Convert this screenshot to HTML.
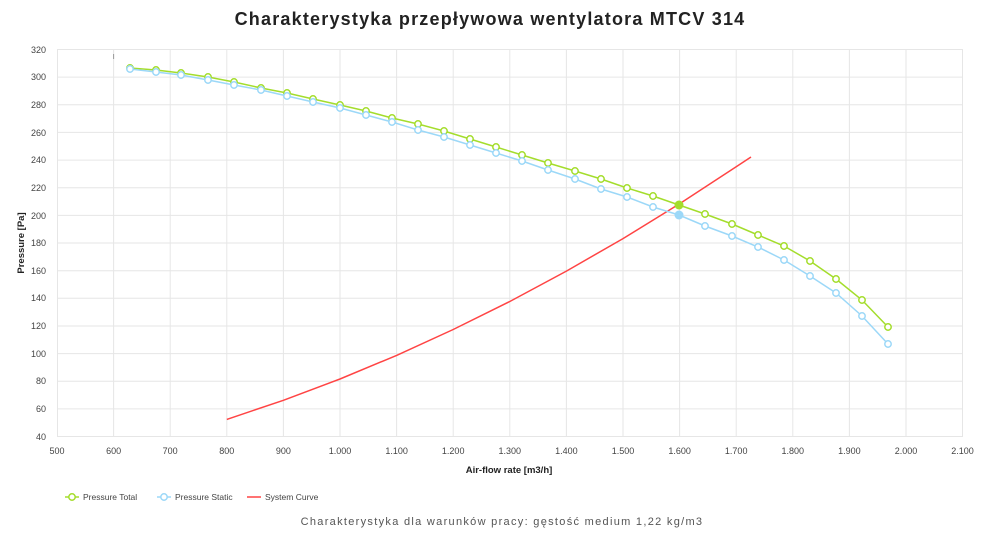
<!DOCTYPE html>
<html><head><meta charset="utf-8"><style>
html,body{margin:0;padding:0;background:#fff;width:1000px;height:541px;overflow:hidden}
svg{display:block;font-family:"Liberation Sans","DejaVu Sans",sans-serif}
</style></head><body>
<svg width="1000" height="541" viewBox="0 0 1000 541" xmlns="http://www.w3.org/2000/svg">
<text x="490" y="25" text-anchor="middle" font-size="18" font-weight="bold" letter-spacing="1.2" fill="#222">Charakterystyka przepływowa wentylatora MTCV 314</text>
<g stroke="#e6e6e6" stroke-width="1">
<line x1="57" y1="49.5" x2="963" y2="49.5"/><line x1="57" y1="77.1" x2="963" y2="77.1"/><line x1="57" y1="104.8" x2="963" y2="104.8"/><line x1="57" y1="132.4" x2="963" y2="132.4"/><line x1="57" y1="160.1" x2="963" y2="160.1"/><line x1="57" y1="187.7" x2="963" y2="187.7"/><line x1="57" y1="215.4" x2="963" y2="215.4"/><line x1="57" y1="243" x2="963" y2="243"/><line x1="57" y1="270.7" x2="963" y2="270.7"/><line x1="57" y1="298.3" x2="963" y2="298.3"/><line x1="57" y1="326" x2="963" y2="326"/><line x1="57" y1="353.6" x2="963" y2="353.6"/><line x1="57" y1="381.3" x2="963" y2="381.3"/><line x1="57" y1="408.9" x2="963" y2="408.9"/><line x1="57" y1="436.5" x2="963" y2="436.5"/>
<line x1="57.5" y1="49" x2="57.5" y2="436"/><line x1="113.6" y1="49" x2="113.6" y2="436"/><line x1="170.2" y1="49" x2="170.2" y2="436"/><line x1="226.8" y1="49" x2="226.8" y2="436"/><line x1="283.4" y1="49" x2="283.4" y2="436"/><line x1="340" y1="49" x2="340" y2="436"/><line x1="396.6" y1="49" x2="396.6" y2="436"/><line x1="453.2" y1="49" x2="453.2" y2="436"/><line x1="509.8" y1="49" x2="509.8" y2="436"/><line x1="566.4" y1="49" x2="566.4" y2="436"/><line x1="623" y1="49" x2="623" y2="436"/><line x1="679.6" y1="49" x2="679.6" y2="436"/><line x1="736.2" y1="49" x2="736.2" y2="436"/><line x1="792.8" y1="49" x2="792.8" y2="436"/><line x1="849.4" y1="49" x2="849.4" y2="436"/><line x1="906" y1="49" x2="906" y2="436"/><line x1="962.5" y1="49" x2="962.5" y2="436"/>
</g>
<line x1="113.6" y1="54" x2="113.6" y2="59" stroke="#999"/>
<g font-size="9" fill="#444" text-anchor="end">
<text x="46" y="53">320</text><text x="46" y="80">300</text><text x="46" y="108">280</text><text x="46" y="136">260</text><text x="46" y="163">240</text><text x="46" y="191">220</text><text x="46" y="219">200</text><text x="46" y="246">180</text><text x="46" y="274">160</text><text x="46" y="301">140</text><text x="46" y="329">120</text><text x="46" y="357">100</text><text x="46" y="384">80</text><text x="46" y="412">60</text><text x="46" y="440">40</text>
</g>
<g font-size="9" fill="#444" text-anchor="middle">
<text x="57" y="454">500</text><text x="113.6" y="454">600</text><text x="170.2" y="454">700</text><text x="226.8" y="454">800</text><text x="283.4" y="454">900</text><text x="340" y="454">1.000</text><text x="396.6" y="454">1.100</text><text x="453.2" y="454">1.200</text><text x="509.8" y="454">1.300</text><text x="566.4" y="454">1.400</text><text x="623" y="454">1.500</text><text x="679.6" y="454">1.600</text><text x="736.2" y="454">1.700</text><text x="792.8" y="454">1.800</text><text x="849.4" y="454">1.900</text><text x="906" y="454">2.000</text><text x="962.5" y="454">2.100</text>
</g>
<text x="509" y="473" text-anchor="middle" font-size="9.5" font-weight="bold" fill="#222">Air-flow rate [m3/h]</text>
<text transform="translate(24,243) rotate(-90)" text-anchor="middle" font-size="9.5" font-weight="bold" fill="#222">Pressure [Pa]</text>
<polyline fill="none" stroke="#f44" stroke-width="1.5" points="226.8,419.4 283.4,400.3 340,379 396.6,355.4 453.2,329.5 509.8,301.5 566.4,271.1 623,238.6 679.6,203.8 736.2,166.7 751,157"/>
<polyline fill="none" stroke="#a4dd2c" stroke-width="1.5" points="130,68 156,70 181,73 208,77 234,82 261,88 287,93 313,99 340,105 366,111 392,118 418,124 444,131 470,139 496,147 522,155 548,163 575,171 601,179 627,188 653,196 679,205 705,214 732,224 758,235 784,246 810,261 836,279 862,300 888,327"/>
<polyline fill="none" stroke="#9cd8f8" stroke-width="1.5" points="130,69 156,72 181,75 208,80 234,85 261,90 287,96 313,102 340,108 366,115 392,122 418,130 444,137 470,145 496,153 522,161 548,170 575,179 601,189 627,197 653,207 679,215 705,226 732,236 758,247 784,260 810,276 836,293 862,316 888,344"/>
<g fill="#fff" stroke="#a4dd2c" stroke-width="1.5">
<circle cx="130" cy="68" r="3.2"/><circle cx="156" cy="70" r="3.2"/><circle cx="181" cy="73" r="3.2"/><circle cx="208" cy="77" r="3.2"/><circle cx="234" cy="82" r="3.2"/><circle cx="261" cy="88" r="3.2"/><circle cx="287" cy="93" r="3.2"/><circle cx="313" cy="99" r="3.2"/><circle cx="340" cy="105" r="3.2"/><circle cx="366" cy="111" r="3.2"/><circle cx="392" cy="118" r="3.2"/><circle cx="418" cy="124" r="3.2"/><circle cx="444" cy="131" r="3.2"/><circle cx="470" cy="139" r="3.2"/><circle cx="496" cy="147" r="3.2"/><circle cx="522" cy="155" r="3.2"/><circle cx="548" cy="163" r="3.2"/><circle cx="575" cy="171" r="3.2"/><circle cx="601" cy="179" r="3.2"/><circle cx="627" cy="188" r="3.2"/><circle cx="653" cy="196" r="3.2"/><circle cx="705" cy="214" r="3.2"/><circle cx="732" cy="224" r="3.2"/><circle cx="758" cy="235" r="3.2"/><circle cx="784" cy="246" r="3.2"/><circle cx="810" cy="261" r="3.2"/><circle cx="836" cy="279" r="3.2"/><circle cx="862" cy="300" r="3.2"/><circle cx="888" cy="327" r="3.2"/>
</g>
<g fill="#fff" stroke="#9cd8f8" stroke-width="1.5">
<circle cx="130" cy="69" r="3.2"/><circle cx="156" cy="72" r="3.2"/><circle cx="181" cy="75" r="3.2"/><circle cx="208" cy="80" r="3.2"/><circle cx="234" cy="85" r="3.2"/><circle cx="261" cy="90" r="3.2"/><circle cx="287" cy="96" r="3.2"/><circle cx="313" cy="102" r="3.2"/><circle cx="340" cy="108" r="3.2"/><circle cx="366" cy="115" r="3.2"/><circle cx="392" cy="122" r="3.2"/><circle cx="418" cy="130" r="3.2"/><circle cx="444" cy="137" r="3.2"/><circle cx="470" cy="145" r="3.2"/><circle cx="496" cy="153" r="3.2"/><circle cx="522" cy="161" r="3.2"/><circle cx="548" cy="170" r="3.2"/><circle cx="575" cy="179" r="3.2"/><circle cx="601" cy="189" r="3.2"/><circle cx="627" cy="197" r="3.2"/><circle cx="653" cy="207" r="3.2"/><circle cx="705" cy="226" r="3.2"/><circle cx="732" cy="236" r="3.2"/><circle cx="758" cy="247" r="3.2"/><circle cx="784" cy="260" r="3.2"/><circle cx="810" cy="276" r="3.2"/><circle cx="836" cy="293" r="3.2"/><circle cx="862" cy="316" r="3.2"/><circle cx="888" cy="344" r="3.2"/>
</g>
<circle cx="679" cy="205" r="4.5" fill="#a4dd2c"/>
<circle cx="679" cy="215" r="4.5" fill="#9cd8f8"/>
<g font-size="8.5" fill="#444">
<line x1="65" y1="497" x2="79" y2="497" stroke="#a4dd2c" stroke-width="1.5"/><circle cx="72" cy="497" r="3.2" fill="#fff" stroke="#a4dd2c" stroke-width="1.5"/><text x="83" y="500">Pressure Total</text>
<line x1="157" y1="497" x2="171" y2="497" stroke="#9cd8f8" stroke-width="1.5"/><circle cx="164" cy="497" r="3.2" fill="#fff" stroke="#9cd8f8" stroke-width="1.5"/><text x="175" y="500">Pressure Static</text>
<line x1="247" y1="497" x2="261" y2="497" stroke="#f44" stroke-width="1.5"/><text x="265" y="500">System Curve</text>
</g>
<text x="502" y="525" text-anchor="middle" font-size="11" letter-spacing="1.3" fill="#555">Charakterystyka dla warunków pracy: gęstość medium 1,22 kg/m3</text>
</svg>
</body></html>
